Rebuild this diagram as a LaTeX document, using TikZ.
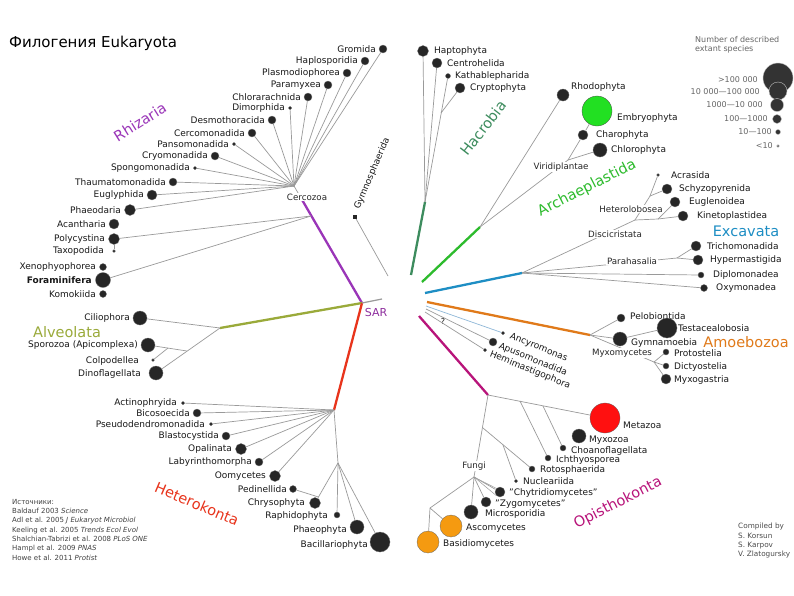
\documentclass[tikz,border=0pt]{standalone}
\usepackage{fontspec}
\setmainfont{DejaVu Sans}
\definecolor{rhzc}{HTML}{9A35B8}
\definecolor{alvc}{HTML}{9AAA3A}
\definecolor{hetc}{HTML}{E8341C}
\definecolor{hacc}{HTML}{3D8C5E}
\definecolor{arcc}{HTML}{2DBB2D}
\definecolor{excc}{HTML}{1E8EC4}
\definecolor{amoc}{HTML}{E07A1A}
\definecolor{opic}{HTML}{B8147A}
\definecolor{sarc}{HTML}{8E2E9E}
\definecolor{embc}{HTML}{22E022}
\definecolor{metc}{HTML}{FF1010}
\definecolor{fungc}{HTML}{F59A10}
\definecolor{dotc}{HTML}{262626}
\definecolor{brc}{HTML}{9A9A9A}
\definecolor{apuc}{HTML}{8FB8D8}
\newcommand{\tx}[8]{\node[#4] (#1) at (#2,#3) {};\node[lab,anchor=#5] (#1-l) at (#6,#7) {#8};}
\begin{document}
\begin{tikzpicture}[x=1pt,y=-1pt,
 br/.style={draw=brc,line width=0.7pt},
 clade/.style={line width=2.3pt},
 sp/.style={circle,fill=dotc,draw=black!55,line width=0.3pt,inner sep=0pt,minimum size=#1},
 lab/.style={font=\fontsize{9}{10}\selectfont,inner sep=0pt,text=black!90},
 inl/.style={font=\fontsize{8.7}{10}\selectfont,inner sep=1pt,fill=white,text=black!85},
 grp/.style={font=\fontsize{14.5}{16}\selectfont,inner sep=0pt},
 rl/.style={lab,anchor=west,rotate=-22},
 legt/.style={font=\fontsize{8}{9}\selectfont,inner sep=0pt,text=black!60},
 legc/.style={circle,fill=black!80,draw=black!25,line width=0.4pt,inner sep=0pt,minimum size=#1}]
\useasboundingbox (0,0) rectangle (794,595);
\fill[white] (0,0) rectangle (794,595);
\node[anchor=west,font=\fontsize{15}{17}\selectfont,inner sep=0pt] (title) at (9,43) {Филогения Eukaryota};

% ---------- coordinates ----------
\coordinate (sar) at (362,303);
\coordinate (sarstub) at (382,299);
\coordinate (cerc) at (294,186);
\coordinate (rhzp) at (301,198);
\coordinate (ret) at (311,216);
\coordinate (gymb) at (388,276);
\coordinate (alvhub) at (220,328);
\coordinate (alva) at (187,351);
\coordinate (alvb) at (168,348);
\coordinate (hethub) at (334,410);
\coordinate (ochhub) at (338,463);
\coordinate (chrp) at (318.5,497);
\coordinate (hacb) at (411,275);
\coordinate (hachub) at (425,202);
\coordinate (kathp) at (441,113);
\coordinate (arcb) at (422,282);
\coordinate (archub) at (480,227);
\coordinate (viri) at (568,160);
\coordinate (excb) at (425,293);
\coordinate (exchub) at (522,273);
\coordinate (disc) at (635,220);
\coordinate (hetl) at (650,196);
\coordinate (eugz) at (658,219);
\coordinate (para) at (677,258);
\coordinate (amb) at (427,302);
\coordinate (amhub) at (590,335);
\coordinate (myxh) at (654,362);
\coordinate (apb1) at (426,306);
\coordinate (apb2) at (426,309);
\coordinate (apb3) at (425,312);
\coordinate (opb) at (419,316);
\coordinate (ophub) at (488,395);
\coordinate (om1) at (520,401);
\coordinate (om2) at (543,406);
\coordinate (fungi) at (474,477);
\coordinate (on1) at (483,428);
\coordinate (on2) at (503,445);
\coordinate (dik) at (430,508);

% ---------- Rhizaria ----------
\tx{gromida}{383}{49}{sp=8}{east}{376}{49}{Gromida}
\tx{haplosporidia}{365}{61}{sp=8}{east}{358}{61}{Haplosporidia}
\tx{plasmodiophorea}{347}{73}{sp=8}{east}{340}{73}{Plasmodiophorea}
\tx{paramyxea}{328}{85}{sp=8}{east}{321}{85}{Paramyxea}
\tx{chlorarachnida}{308}{97}{sp=8}{east}{301}{97}{Chlorarachnida}
\tx{dimorphida}{290}{108}{sp=3.5}{east}{285}{108}{Dimorphida}
\tx{desmothoracida}{272}{120}{sp=8}{east}{265}{120}{Desmothoracida}
\tx{cercomonadida}{252}{133}{sp=8}{east}{245}{133}{Cercomonadida}
\tx{pansomonadida}{234}{144}{sp=3.5}{east}{229}{144}{Pansomonadida}
\tx{cryomonadida}{215}{156}{sp=8}{east}{208}{156}{Cryomonadida}
\tx{spongomonadida}{195}{168}{sp=3.5}{east}{190}{168}{Spongomonadida}
\tx{thaumatomonadida}{173}{182}{sp=8}{east}{166}{182}{Thaumatomonadida}
\tx{euglyphida}{152}{195}{sp=10}{east}{144}{195}{Euglyphida}
\tx{phaeodaria}{130}{210}{sp=11}{east}{121}{210}{Phaeodaria}
\tx{acantharia}{114}{224}{sp=10}{east}{106}{224}{Acantharia}
\tx{polycystina}{114}{239}{sp=11}{east}{105}{239}{Polycystina}
\tx{taxopodida}{114}{251}{sp=3}{east}{104}{251}{Taxopodida}
\tx{xenophyophorea}{103}{267}{sp=7}{east}{96}{267}{Xenophyophorea}
\tx{foraminifera}{103}{280}{sp=15}{east}{92}{280}{\bfseries Foraminifera}
\tx{komokiida}{103}{294}{sp=7}{east}{96}{294}{Komokiida}
\node[rectangle,fill=dotc,inner sep=0pt,minimum size=3.5pt] (gymnosphaerida) at (355,217) {};
\node[lab,anchor=west,rotate=67] (gymnosphaerida-l) at (357,209) {Gymnosphaerida};

% ---------- Alveolata ----------
\tx{ciliophora}{140}{318}{sp=14}{east}{130}{318}{Ciliophora}
\tx{sporozoa}{148}{345}{sp=14}{east}{138}{345}{Sporozoa (Apicomplexa)}
\tx{colpodellea}{153}{360}{sp=3}{east}{139}{361}{Colpodellea}
\tx{dinoflagellata}{156}{373}{sp=14}{east}{141}{374}{Dinoflagellata}

% ---------- Heterokonta ----------
\tx{actinophryida}{183}{403}{sp=3.5}{east}{177}{403}{Actinophryida}
\tx{bicosoecida}{197}{413}{sp=8}{east}{190}{413}{Bicosoecida}
\tx{pseudodendromonadida}{211}{424}{sp=3.5}{east}{205}{424}{Pseudodendromonadida}
\tx{blastocystida}{226}{436}{sp=8}{east}{219}{436}{Blastocystida}
\tx{opalinata}{241}{449}{sp=11}{east}{232}{449}{Opalinata}
\tx{labyrinthomorpha}{259}{462}{sp=8}{east}{252}{462}{Labyrinthomorpha}
\tx{oomycetes}{275}{476}{sp=11}{east}{266}{476}{Oomycetes}
\tx{pedinellida}{293}{489}{sp=7}{east}{287}{489}{Pedinellida}
\tx{chrysophyta}{315}{503}{sp=11}{east}{305}{503}{Chrysophyta}
\tx{raphidophyta}{337}{515}{sp=6}{east}{328}{516}{Raphidophyta}
\tx{phaeophyta}{357}{527}{sp=14}{east}{347}{530}{Phaeophyta}
\tx{bacillariophyta}{380}{542}{sp=20}{east}{368}{545}{Bacillariophyta}

% ---------- Hacrobia ----------
\tx{haptophyta}{423}{51}{sp=11}{west}{434}{51}{Haptophyta}
\tx{centrohelida}{437}{63}{sp=10}{west}{447}{63}{Centrohelida}
\tx{kathablepharida}{448}{76}{sp=5}{west}{455}{76}{Kathablepharida}
\tx{cryptophyta}{460}{88}{sp=10}{west}{470}{88}{Cryptophyta}

% ---------- Archaeplastida ----------
\tx{rhodophyta}{563}{95}{sp=12}{west}{571}{87}{Rhodophyta}
\tx{embryophyta}{597}{111}{{sp=30,fill=embc,draw=black!70}}{west}{617}{118}{Embryophyta}
\tx{charophyta}{583}{135}{sp=10}{west}{596}{135}{Charophyta}
\tx{chlorophyta}{600}{150}{sp=14}{west}{611}{150}{Chlorophyta}

% ---------- Excavata ----------
\tx{acrasida}{658}{175}{sp=3}{west}{671}{175}{Acrasida}
\tx{schyzopyrenida}{667}{189}{sp=10}{west}{679}{189}{Schyzopyrenida}
\tx{euglenoidea}{675}{202}{sp=10}{west}{689}{202}{Euglenoidea}
\tx{kinetoplastidea}{683}{216}{sp=10}{west}{697}{216}{Kinetoplastidea}
\tx{trichomonadida}{696}{246}{sp=10}{west}{707}{246}{Trichomonadida}
\tx{hypermastigida}{698}{260}{sp=10}{west}{710}{260}{Hypermastigida}
\tx{diplomonadea}{701}{275}{sp=6}{west}{713}{275}{Diplomonadea}
\tx{oxymonadea}{704}{288}{sp=7}{west}{716}{288}{Oxymonadea}

% ---------- Amoebozoa ----------
\tx{pelobiontida}{621}{318}{sp=8}{west}{630}{316}{Pelobiontida}
\tx{testacealobosia}{667}{328}{sp=20}{west}{678}{328}{Testacealobosia}
\tx{gymnamoebia}{620}{339}{sp=14}{west}{631}{343}{Gymnamoebia}
\tx{protostelia}{666}{352}{sp=6}{west}{674}{353}{Protostelia}
\tx{dictyostelia}{666}{366}{sp=6}{west}{674}{367}{Dictyostelia}
\tx{myxogastria}{666}{379}{sp=10}{west}{674}{380}{Myxogastria}

% ---------- Apusozoa etc. ----------
\node[sp=3.5] (ancyromonas) at (503,333) {};
\node[sp=8] (apusomonadida) at (493,342) {};
\node[sp=3.5] (hemimastigophora) at (485,350) {};
\node[rl] (ancyromonas-l) at (510,336) {Ancyromonas};
\node[rl] (apusomonadida-l) at (499,346) {Apusomonadida};
\node[rl] (hemimastigophora-l) at (490,354) {Hemimastigophora};
\node[lab,font=\fontsize{8}{9}\selectfont] (qmark) at (443,322) {?};

% ---------- Opisthokonta ----------
\tx{metazoa}{605}{418}{{sp=30,fill=metc,draw=black!60}}{west}{623}{425}{Metazoa}
\tx{myxozoa}{579}{436}{sp=14}{west}{589}{440}{Myxozoa}
\tx{choanoflagellata}{563}{448}{sp=6}{west}{571}{451}{Choanoflagellata}
\tx{ichthyosporea}{548}{458}{sp=6}{west}{556}{460}{Ichthyosporea}
\tx{rotosphaerida}{532}{469}{sp=6}{west}{540}{470}{Rotosphaerida}
\tx{nucleariida}{516}{481}{sp=3.5}{west}{523}{481}{Nucleariida}
\tx{chytridiomycetes}{500}{492}{sp=10}{west}{509}{493}{"Chytridiomycetes"}
\tx{zygomycetes}{486}{502}{sp=10}{west}{495}{504}{"Zygomycetes"}
\tx{microsporidia}{471}{512}{sp=14}{west}{485}{514}{Microsporidia}
\tx{ascomycetes}{451}{526}{{sp=22,fill=fungc,draw=black!60}}{west}{466}{528}{Ascomycetes}
\tx{basidiomycetes}{428}{542}{{sp=22,fill=fungc,draw=black!60}}{west}{443}{544}{Basidiomycetes}

% ---------- colored clade branches ----------
\draw[clade,rhzc] (sar) -- (rhzp);
\draw[clade,alvc] (sar) -- (alvhub);
\draw[clade,hetc] (sar) -- (hethub);
\draw[clade,hacc] (hacb) -- (hachub);
\draw[clade,arcc] (arcb) -- (archub);
\draw[clade,excc] (excb) -- (exchub);
\draw[clade,amoc] (amb) -- (amhub);
\draw[clade,opic] (opb) -- (ophub);
\draw[br,line width=1.2pt] (sar) -- (sarstub);

% ---------- gray branches ----------
\draw[br] (rhzp) -- (cerc);
\foreach \n in {gromida,haplosporidia,plasmodiophorea,paramyxea,chlorarachnida,dimorphida,desmothoracida,cercomonadida,pansomonadida,cryomonadida,spongomonadida,thaumatomonadida,euglyphida,phaeodaria}
  \draw[br] (cerc) -- (\n);
\draw[br] (ret) -- (polycystina);
\draw[br] (ret) -- (foraminifera);
\draw[br] (polycystina) -- (taxopodida);
\draw[br] (gymb) -- (gymnosphaerida);

\draw[br] (alvhub) -- (ciliophora);
\draw[br] (alvhub) -- (dinoflagellata);
\draw[br] (alva) -- (sporozoa);
\draw[br] (alvb) -- (colpodellea);

\foreach \n in {actinophryida,bicosoecida,pseudodendromonadida,blastocystida,opalinata,labyrinthomorpha,oomycetes}
  \draw[br] (hethub) -- (\n);
\draw[br] (hethub) -- (ochhub);
\foreach \n in {chrysophyta,raphidophyta,phaeophyta,bacillariophyta}
  \draw[br] (ochhub) -- (\n);
\draw[br] (chrp) -- (pedinellida);

\draw[br] (hachub) -- (haptophyta);
\draw[br] (hachub) -- (centrohelida);
\draw[br] (hachub) -- (kathablepharida);
\draw[br] (kathp) -- (cryptophyta);

\draw[br] (archub) -- (rhodophyta);
\draw[br] (archub) -- (viri);
\draw[br] (viri) -- (charophyta);
\draw[br] (charophyta) -- (embryophyta);
\draw[br] (viri) -- (chlorophyta);

\draw[br] (exchub) -- (disc);
\draw[br] (disc) -- (hetl);
\draw[br] (hetl) -- (acrasida);
\draw[br] (hetl) -- (schyzopyrenida);
\draw[br] (disc) -- (eugz);
\draw[br] (eugz) -- (euglenoidea);
\draw[br] (eugz) -- (kinetoplastidea);
\draw[br] (exchub) -- (para);
\draw[br] (para) -- (trichomonadida);
\draw[br] (para) -- (hypermastigida);
\draw[br] (exchub) -- (diplomonadea);
\draw[br] (exchub) -- (oxymonadea);

\draw[br] (amhub) -- (pelobiontida);
\draw[br] (amhub) -- (gymnamoebia);
\draw[br] (gymnamoebia) -- (testacealobosia);
\draw[br] (amhub) -- (myxh);
\draw[br] (myxh) -- (protostelia);
\draw[br] (myxh) -- (dictyostelia);
\draw[br] (myxh) -- (myxogastria);

\draw[br,draw=apuc] (apb1) -- (ancyromonas);
\draw[br] (apb2) -- (apusomonadida);
\draw[br] (apb3) -- (hemimastigophora);

\draw[br] (ophub) -- (metazoa);
\draw[br] (om1) -- (ichthyosporea);
\draw[br] (om2) -- (choanoflagellata);
\draw[br] (ophub) -- (fungi);
\draw[br] (on1) -- (rotosphaerida);
\draw[br] (on2) -- (nucleariida);
\draw[br] (fungi) -- (chytridiomycetes);
\draw[br,line width=0.5pt] (fungi) -- (chytridiomycetes.north west);
\draw[br,line width=0.5pt] (fungi) -- (chytridiomycetes.south west);
\draw[br] (fungi) -- (zygomycetes);
\draw[br] (fungi) -- (microsporidia);
\draw[br] (fungi) -- (dik);
\draw[br] (dik) -- (basidiomycetes);
\draw[br] (dik) -- (ascomycetes);

% ---------- internal labels ----------
\node[inl] (cercozoa-l) at (307,197) {Cercozoa};
\node[inl] (viri-l) at (561,167) {Viridiplantae};
\node[inl] (hetl-l) at (631,209) {Heterolobosea};
\node[inl] (disc-l) at (615,234) {Discicristata};
\node[inl] (para-l) at (632,261) {Parahasalia};
\node[inl] (myx-l) at (622,353) {Myxomycetes};
\node[inl] (fungi-l) at (474,466) {Fungi};
\node[font=\fontsize{11}{12}\selectfont,text=sarc,inner sep=0pt] (sar-l) at (376,312) {SAR};

% ---------- group labels ----------
\node[grp,text=rhzc,rotate=32] (rhizaria-g) at (140,122) {Rhizaria};
\node[grp,text=alvc] (alveolata-g) at (67,332) {Alveolata};
\node[grp,text=hetc,rotate=-23] (heterokonta-g) at (197,504) {Heterokonta};
\node[grp,text=hacc,rotate=52] (hacrobia-g) at (483,128) {Hacrobia};
\node[grp,text=arcc,rotate=27] (archaeplastida-g) at (587,188) {Archaeplastida};
\node[grp,text=excc] (excavata-g) at (746,231) {Excavata};
\node[grp,text=amoc] (amoebozoa-g) at (746,342) {Amoebozoa};
\node[grp,text=opic,rotate=27] (opisthokonta-g) at (618,503) {Opisthokonta};

% ---------- legend ----------
\node[legt,anchor=west] (legtitle1) at (695,40) {Number of described};
\node[legt,anchor=west] (legtitle2) at (695,49) {extant species};
\node[legc=30] (leg1) at (778,78) {};
\node[legc=18] (leg2) at (778,91) {};
\node[legc=13] (leg3) at (777,105) {};
\node[legc=9] (leg4) at (777,119) {};
\node[legc=5] (leg5) at (778,132) {};
\node[legc=2.6] (leg6) at (778,146) {};
\node[legt,anchor=east] (leg1-l) at (758,80) {>100 000};
\node[legt,anchor=east] (leg2-l) at (760,92) {10 000—100 000};
\node[legt,anchor=east] (leg3-l) at (763,105) {1000—10 000};
\node[legt,anchor=east] (leg4-l) at (768,119) {100—1000};
\node[legt,anchor=east] (leg5-l) at (772,132) {10—100};
\node[legt,anchor=east] (leg6-l) at (773,146) {<10};

% ---------- sources & credits ----------
\node[anchor=north west,align=left,inner sep=0pt,font=\fontsize{7}{9.3}\selectfont,text=black!75] (sources) at (12,499) {Источники:\\
Baldauf 2003 \textit{Science}\\
Adl et al. 2005 \textit{J Eukaryot Microbiol}\\
Keeling et al. 2005 \textit{Trends Ecol Evol}\\
Shalchian-Tabrizi et al. 2008 \textit{PLoS ONE}\\
Hampl et al. 2009 \textit{PNAS}\\
Howe et al. 2011 \textit{Protist}};
\node[anchor=north west,align=left,inner sep=0pt,font=\fontsize{7.3}{9.3}\selectfont,text=black!70] (credits) at (738,523) {Compiled by\\S. Korsun\\S. Karpov\\V. Zlatogursky};
\end{tikzpicture}
\end{document}
